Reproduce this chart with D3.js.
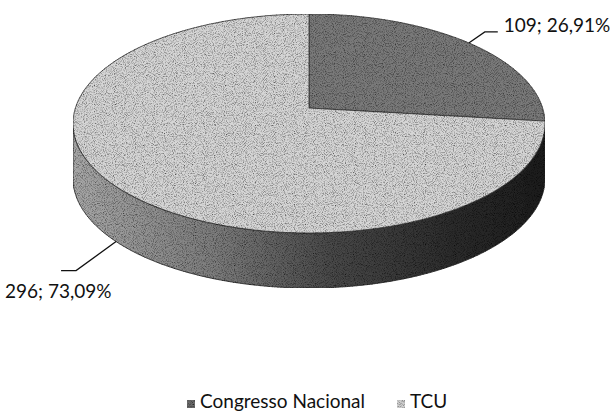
<!DOCTYPE html>
<html><head><meta charset="utf-8">
<script src="https://cdn.jsdelivr.net/npm/d3@7"></script>
<style>html,body{margin:0;padding:0;background:#fff;}svg{display:block;}</style>
</head><body>
<svg id="c" width="610" height="412"></svg>
<script>
const categories = ["Congresso Nacional", "TCU"];
const values = [109, 296];

const svg = d3.select("#c");
const font = "Lato, 'Open Sans', sans-serif";

// perspective ellipse geometry
const cx = 309, vy = 108, A = 233.6, B = 107.3, k = 0.1416, D = 55;
const P = (t, dy) => { const u = Math.sin(t), v = Math.cos(t), w = 1 + k * v; return [cx + A * u / w, vy - B * v / w + dy]; };
const sil1 = Math.acos(-k), sil2 = 2 * Math.PI - Math.acos(-k);

const defs = svg.append("defs");
const g1 = defs.append("linearGradient").attr("id", "side").attr("x1", "0").attr("x2", "1").attr("y1", "0").attr("y2", "0");
[[0, "#a8a8a8"], [0.3, "#7c7c7c"], [0.55, "#484848"], [0.8, "#2c2c2c"], [1, "#1c1c1c"]].forEach(([o, c]) => g1.append("stop").attr("offset", o).attr("stop-color", c));
const f = defs.append("filter").attr("id", "grain").attr("x", 0).attr("y", 0).attr("width", 1).attr("height", 1);
f.append("feTurbulence").attr("type", "fractalNoise").attr("baseFrequency", 1.1).attr("numOctaves", 1).attr("seed", 3).attr("result", "n");
f.append("feColorMatrix").attr("in", "n").attr("type", "matrix")
  .attr("values", "0 0 0 0 0  0 0 0 0 0  0 0 0 0 0  0 0 0 -2.2 1.25").attr("result", "dots");
f.append("feComposite").attr("in", "dots").attr("in2", "SourceGraphic").attr("operator", "in").attr("result", "d2");
f.append("feComposite").attr("in", "d2").attr("in2", "SourceGraphic").attr("operator", "over");

const topColors = ["#7a7a7a", "#d6d6d6"];
const legendColors = ["#6a6a6a", "#cfcfcf"];

const pie = d3.pie().sort(null).value(d => d)(values);
const total = d3.sum(values);
const fmt = v => v.toFixed(2).replace(".", ",");

const N = 120;
const sample = (a0, a1, dy) => d3.range(N + 1).map(i => P(a0 + (a1 - a0) * i / N, dy));
const line = d3.line();

const gp = svg.append("g").attr("filter", "url(#grain)");
// sides
pie.forEach((p, i) => {
  const a0 = Math.max(p.startAngle, sil1), a1 = Math.min(p.endAngle, sil2);
  if (a1 <= a0) return;
  const pts = sample(a0, a1, 0).concat(sample(a0, a1, D).reverse());
  gp.append("path").attr("d", line(pts) + "Z").attr("fill", "url(#side)")
    .attr("stroke", "#222").attr("stroke-width", 0.8);
});
// tops
pie.forEach((p, i) => {
  const pts = [[cx, vy]].concat(sample(p.startAngle, p.endAngle, 0));
  gp.append("path").attr("d", line(pts) + "Z").attr("fill", topColors[i])
    .attr("stroke", "#333").attr("stroke-width", 0.8);
});

// labels
const leaders = [
  { e: [16, -11], h: 13, tx: 6, ty: 0, anchor: "start" },
  { e: [-40, 29], h: -15, tx: -56, ty: 27, anchor: "start" }
];
pie.forEach((p, i) => {
  const mid = (p.startAngle + p.endAngle) / 2;
  const front = mid > sil1 && mid < sil2;
  const s = P(mid, front ? D : 0);
  const L = leaders[i];
  const e = [s[0] + L.e[0], s[1] + L.e[1]];
  const h = [e[0] + L.h, e[1]];
  svg.append("path").attr("d", line([s, e, h])).attr("fill", "none").attr("stroke", "#111").attr("stroke-width", 1.3);
  const pct = fmt(p.data / total * 100);
  svg.append("text").attr("x", h[0] + L.tx).attr("y", h[1] + L.ty)
    .attr("font-family", font).attr("font-size", 19).attr("fill", "#111")
    .text(values[i] + "; " + pct + "%");
});

// legend
const lx = [187, 397], ltx = [200, 410];
categories.forEach((c, i) => {
  svg.append("rect").attr("x", lx[i]).attr("y", 400).attr("width", 8).attr("height", 8)
    .attr("fill", legendColors[i]).attr("filter", "url(#grain)");
  svg.append("text").attr("x", ltx[i]).attr("y", 408).attr("font-family", font)
    .attr("font-size", 19).attr("fill", "#111").text(c);
});
</script>
</body></html>
